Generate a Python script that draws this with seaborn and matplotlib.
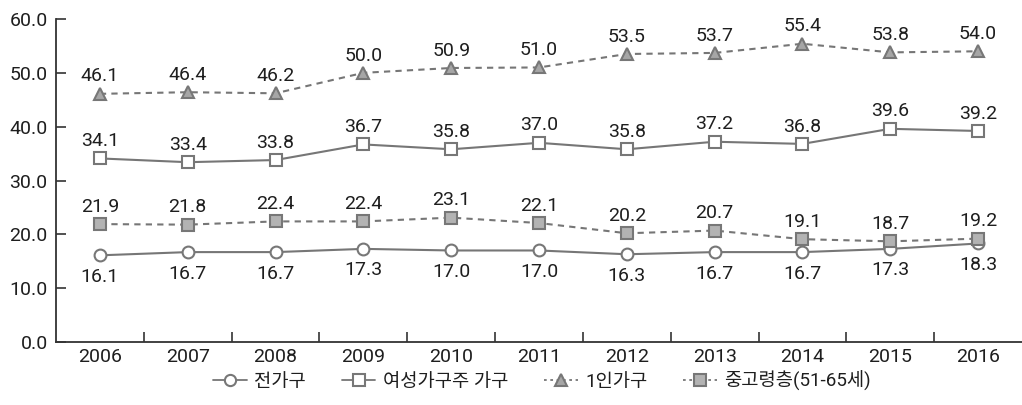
import matplotlib
matplotlib.use("Agg")
import matplotlib.pyplot as plt
import seaborn as sns
import pandas as pd
import numpy as np
from matplotlib.ticker import FixedLocator
from matplotlib.lines import Line2D

years = ["2006", "2007", "2008", "2009", "2010", "2011", "2012", "2013", "2014", "2015", "2016"]
all_hh = [16.1, 16.7, 16.7, 17.3, 17.0, 17.0, 16.3, 16.7, 16.7, 17.3, 18.3]
female_head = [34.1, 33.4, 33.8, 36.7, 35.8, 37.0, 35.8, 37.2, 36.8, 39.6, 39.2]
single = [46.1, 46.4, 46.2, 50.0, 50.9, 51.0, 53.5, 53.7, 55.4, 53.8, 54.0]
middle_aged = [21.9, 21.8, 22.4, 22.4, 23.1, 22.1, 20.2, 20.7, 19.1, 18.7, 19.2]
series_names = ["전가구", "여성가구주 가구", "1인가구", "중고령층(51-65세)"]
y_ticks = [0, 10, 20, 30, 40, 50, 60]

sns.set_theme(style="white")
plt.rcParams['font.family'] = ['Roboto', 'Noto Sans CJK KR', 'DejaVu Sans']

fig = plt.figure(figsize=(10.22, 4.05), dpi=100)
ax = fig.add_axes([56/1022, 1-342/405, 1-56/1022, (342-19)/405])

pos = np.arange(len(years))
styles = [
    dict(values=all_hh, marker="o", ls="-", mfc="white", ms=8.5, below=True),
    dict(values=female_head, marker="s", ls="-", mfc="white", ms=9, below=False),
    dict(values=single, marker="^", ls=(0, (3, 2.5)), mfc="#a6a6a6", ms=9, below=False),
    dict(values=middle_aged, marker="s", ls=(0, (3, 2.5)), mfc="#b3b3b3", ms=9, below=False),
]
line_col = "#767676"
edge_col = "#777777"
txt_col = "#1e1e1e"
fs = 14
handles = []
for name, st in zip(series_names, styles):
    df = pd.DataFrame({"x": pos, "y": st["values"]})
    sns.lineplot(data=df, x="x", y="y", ax=ax, color=line_col, lw=1.5,
                 linestyle=st["ls"], marker=st["marker"], markersize=st["ms"],
                 markerfacecolor=st["mfc"], markeredgecolor=edge_col,
                 markeredgewidth=1.5, legend=False)
    handles.append(Line2D([0], [0], color=line_col, lw=1.3,
                          linestyle=st["ls"] if st["ls"] == "-" else (0, (1.5, 2)),
                          marker=st["marker"], markersize=st["ms"] * 0.95,
                          markerfacecolor=st["mfc"], markeredgecolor=edge_col,
                          markeredgewidth=1.5, label=name))
    for xi, yi in zip(pos, st["values"]):
        if st["below"]:
            ax.annotate(f"{yi:.1f}", (xi, yi), xytext=(0, -9), textcoords="offset points",
                        ha="center", va="top", fontsize=fs, color=txt_col)
        else:
            ax.annotate(f"{yi:.1f}", (xi, yi), xytext=(0, 6), textcoords="offset points",
                        ha="center", va="bottom", fontsize=fs, color=txt_col)

ax.set_xlim(-0.5, len(years) - 0.5)
ax.set_ylim(0, 60)
ax.set_yticks(y_ticks)
ax.set_yticklabels([f"{v:.1f}" for v in y_ticks], fontsize=fs, color=txt_col)
ax.set_xticks(pos)
ax.set_xticklabels(years, fontsize=fs, color=txt_col)
ax.xaxis.set_minor_locator(FixedLocator(np.arange(0.5, len(years) - 0.5, 1)))
ax.tick_params(axis="x", which="major", length=0, pad=4)
ax.tick_params(axis="x", which="minor", length=7, width=1.2, direction="in", color="#333333", bottom=True)
ax.tick_params(axis="y", which="major", length=7, width=1.2, direction="in", color="#333333", pad=6, left=True)
ax.set_xlabel("")
ax.set_ylabel("")
for s in ["top", "right"]:
    ax.spines[s].set_visible(False)
for s in ["left", "bottom"]:
    ax.spines[s].set_color("#333333")
    ax.spines[s].set_linewidth(1.3)

leg = fig.legend(handles=handles, loc="center", bbox_to_anchor=(542/1022, 1-381/405), ncol=4, frameon=False,
                 fontsize=13.5, handlelength=1.8, columnspacing=1.9, handletextpad=0.4)
for t in leg.get_texts():
    t.set_color(txt_col)

fig.savefig("out.png", dpi=100)
